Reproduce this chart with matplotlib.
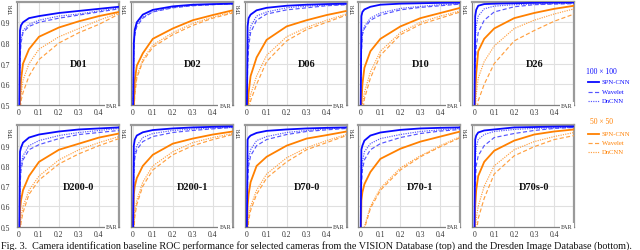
import matplotlib
matplotlib.use("Agg")
import matplotlib.pyplot as plt
from matplotlib.lines import Line2D

# ---------------- data ----------------
far = [0.0, 0.005, 0.01, 0.02, 0.05, 0.1, 0.2, 0.3, 0.4, 0.5]

cameras_top = ["D01", "D02", "D06", "D10", "D26"]
cameras_bottom = ["D200-0", "D200-1", "D70-0", "D70-1", "D70s-0"]
methods = ["SPN-CNN", "Wavelet", "DnCNN"]
resolutions = ["100 \u00d7 100", "50 \u00d7 50"]

# rows: 100x100 SPN-CNN, Wavelet, DnCNN, then 50x50 SPN-CNN, Wavelet, DnCNN
D01_tpr = [
    [0.3, 0.86, 0.885, 0.90, 0.92, 0.93, 0.945, 0.955, 0.965, 0.975],
    [0.3, 0.72, 0.80, 0.85, 0.88, 0.90, 0.92, 0.935, 0.95, 0.965],
    [0.3, 0.75, 0.82, 0.86, 0.89, 0.91, 0.93, 0.94, 0.955, 0.97],
    [0.3, 0.52, 0.62, 0.70, 0.77, 0.83, 0.875, 0.905, 0.93, 0.95],
    [0.3, 0.45, 0.52, 0.56, 0.64, 0.72, 0.80, 0.85, 0.89, 0.94],
    [0.3, 0.48, 0.55, 0.62, 0.70, 0.77, 0.83, 0.87, 0.91, 0.945],
]
D02_tpr = [
    [0.3, 0.80, 0.865, 0.90, 0.937, 0.96, 0.977, 0.985, 0.988, 0.99],
    [0.3, 0.76, 0.84, 0.88, 0.92, 0.95, 0.97, 0.98, 0.985, 0.99],
    [0.3, 0.77, 0.85, 0.89, 0.925, 0.952, 0.972, 0.982, 0.986, 0.99],
    [0.3, 0.50, 0.62, 0.69, 0.75, 0.82, 0.87, 0.91, 0.935, 0.958],
    [0.3, 0.45, 0.55, 0.63, 0.71, 0.78, 0.84, 0.885, 0.92, 0.945],
    [0.3, 0.46, 0.56, 0.64, 0.72, 0.79, 0.85, 0.895, 0.925, 0.95],
]
D06_tpr = [
    [0.3, 0.88, 0.92, 0.937, 0.958, 0.97, 0.98, 0.985, 0.988, 0.99],
    [0.3, 0.68, 0.78, 0.85, 0.91, 0.94, 0.96, 0.97, 0.98, 0.985],
    [0.3, 0.72, 0.82, 0.88, 0.93, 0.95, 0.97, 0.978, 0.983, 0.987],
    [0.3, 0.48, 0.56, 0.64, 0.73, 0.815, 0.88, 0.91, 0.935, 0.955],
    [0.3, 0.30, 0.45, 0.52, 0.60, 0.71, 0.81, 0.865, 0.90, 0.935],
    [0.3, 0.35, 0.50, 0.55, 0.64, 0.74, 0.83, 0.875, 0.91, 0.94],
]
D10_tpr = [
    [0.3, 0.93, 0.95, 0.962, 0.975, 0.985, 0.99, 0.992, 0.994, 0.995],
    [0.3, 0.75, 0.84, 0.87, 0.91, 0.935, 0.96, 0.972, 0.98, 0.988],
    [0.3, 0.77, 0.85, 0.88, 0.92, 0.945, 0.967, 0.977, 0.985, 0.99],
    [0.3, 0.50, 0.60, 0.68, 0.76, 0.82, 0.88, 0.92, 0.945, 0.97],
    [0.3, 0.35, 0.45, 0.53, 0.63, 0.74, 0.84, 0.89, 0.92, 0.95],
    [0.3, 0.40, 0.50, 0.56, 0.66, 0.76, 0.85, 0.90, 0.93, 0.955],
]
D26_tpr = [
    [0.3, 0.93, 0.96, 0.98, 0.988, 0.99, 0.992, 0.994, 0.995, 0.996],
    [0.3, 0.68, 0.78, 0.85, 0.91, 0.95, 0.975, 0.985, 0.988, 0.99],
    [0.3, 0.80, 0.88, 0.93, 0.965, 0.978, 0.985, 0.988, 0.99, 0.992],
    [0.3, 0.55, 0.65, 0.76, 0.82, 0.87, 0.92, 0.945, 0.965, 0.98],
    [0.3, 0.35, 0.45, 0.52, 0.60, 0.70, 0.81, 0.86, 0.905, 0.94],
    [0.3, 0.45, 0.55, 0.63, 0.71, 0.785, 0.87, 0.91, 0.94, 0.965],
]
D200_0_tpr = [
    [0.3, 0.87, 0.89, 0.915, 0.94, 0.955, 0.97, 0.98, 0.985, 0.99],
    [0.3, 0.70, 0.78, 0.83, 0.88, 0.905, 0.935, 0.955, 0.965, 0.975],
    [0.3, 0.72, 0.80, 0.85, 0.90, 0.925, 0.95, 0.965, 0.975, 0.985],
    [0.3, 0.58, 0.63, 0.68, 0.75, 0.82, 0.88, 0.91, 0.94, 0.96],
    [0.3, 0.45, 0.52, 0.57, 0.66, 0.73, 0.81, 0.86, 0.90, 0.935],
    [0.3, 0.48, 0.55, 0.60, 0.68, 0.75, 0.83, 0.88, 0.915, 0.945],
]
D200_1_tpr = [
    [0.3, 0.90, 0.93, 0.95, 0.966, 0.977, 0.985, 0.99, 0.993, 0.995],
    [0.3, 0.76, 0.84, 0.88, 0.92, 0.945, 0.965, 0.975, 0.983, 0.99],
    [0.3, 0.78, 0.86, 0.90, 0.94, 0.96, 0.975, 0.982, 0.987, 0.99],
    [0.3, 0.66, 0.70, 0.74, 0.80, 0.855, 0.91, 0.935, 0.955, 0.97],
    [0.3, 0.48, 0.55, 0.61, 0.70, 0.78, 0.855, 0.90, 0.93, 0.955],
    [0.3, 0.50, 0.57, 0.63, 0.72, 0.80, 0.87, 0.915, 0.94, 0.96],
]
D70_0_tpr = [
    [0.3, 0.93, 0.94, 0.95, 0.963, 0.973, 0.98, 0.985, 0.988, 0.99],
    [0.3, 0.72, 0.80, 0.85, 0.90, 0.93, 0.955, 0.97, 0.978, 0.985],
    [0.3, 0.76, 0.84, 0.88, 0.925, 0.945, 0.965, 0.975, 0.983, 0.99],
    [0.3, 0.60, 0.66, 0.72, 0.80, 0.845, 0.90, 0.935, 0.952, 0.97],
    [0.3, 0.45, 0.53, 0.58, 0.66, 0.74, 0.82, 0.88, 0.915, 0.95],
    [0.3, 0.48, 0.55, 0.60, 0.68, 0.76, 0.84, 0.89, 0.925, 0.955],
]
D70_1_tpr = [
    [0.3, 0.88, 0.90, 0.925, 0.95, 0.965, 0.978, 0.985, 0.988, 0.99],
    [0.3, 0.70, 0.78, 0.83, 0.88, 0.91, 0.94, 0.96, 0.972, 0.98],
    [0.3, 0.74, 0.82, 0.87, 0.91, 0.935, 0.955, 0.97, 0.978, 0.985],
    [0.3, 0.63, 0.67, 0.71, 0.77, 0.835, 0.885, 0.92, 0.945, 0.97],
    [0.3, 0.30, 0.40, 0.49, 0.59, 0.68, 0.78, 0.845, 0.895, 0.94],
    [0.3, 0.30, 0.42, 0.50, 0.60, 0.69, 0.79, 0.85, 0.90, 0.945],
]
D70s_0_tpr = [
    [0.3, 0.93, 0.95, 0.965, 0.975, 0.98, 0.99, 0.992, 0.994, 0.995],
    [0.3, 0.70, 0.80, 0.85, 0.90, 0.94, 0.96, 0.975, 0.985, 0.99],
    [0.3, 0.82, 0.89, 0.93, 0.955, 0.97, 0.98, 0.985, 0.988, 0.99],
    [0.3, 0.60, 0.68, 0.75, 0.82, 0.875, 0.925, 0.955, 0.97, 0.98],
    [0.3, 0.38, 0.46, 0.54, 0.64, 0.76, 0.85, 0.895, 0.93, 0.95],
    [0.3, 0.45, 0.54, 0.60, 0.70, 0.80, 0.88, 0.92, 0.945, 0.965],
]

x_ticks = [0, 0.1, 0.2, 0.3, 0.4]
x_ticklabels = ["0", "0.1", "0.2", "0.3", "0.4"]
y_ticks = [0.5, 0.6, 0.7, 0.8, 0.9]
y_ticklabels = ["0.5", "0.6", "0.7", "0.8", "0.9"]

caption = ("Fig. 3.  Camera identification baseline ROC performance for selected cameras "
           "from the VISION Database (top) and the Dresden Image Database (bottom).")

tpr_by_camera = {
    "D01": D01_tpr, "D02": D02_tpr, "D06": D06_tpr, "D10": D10_tpr, "D26": D26_tpr,
    "D200-0": D200_0_tpr, "D200-1": D200_1_tpr, "D70-0": D70_0_tpr,
    "D70-1": D70_1_tpr, "D70s-0": D70s_0_tpr,
}

# ---------------- style ----------------
plt.rcParams['font.family'] = ['Liberation Serif', 'DejaVu Serif']
W, H = 640, 251
fig = plt.figure(figsize=(W / 100, H / 100), dpi=100)

BLUE = "#0a0aff"
BLUE_L = "#5555ff"
ORANGE = "#ff8000"
ORANGE_L = "#ffa040"

styles = [
    dict(color=BLUE, lw=1.3, ls="-"),
    dict(color=BLUE_L, lw=0.85, ls=(0, (3.5, 2))),
    dict(color=BLUE_L, lw=0.85, ls=(0, (1, 1))),
    dict(color=ORANGE, lw=1.3, ls="-"),
    dict(color=ORANGE_L, lw=0.85, ls=(0, (3.5, 2))),
    dict(color=ORANGE_L, lw=0.85, ls=(0, (1, 1))),
]
draw_order = [4, 5, 1, 2, 3, 0]

def px2fig(x, y):
    return x / W, 1 - y / H

rows = [(cameras_top, 2.6, 106.0), (cameras_bottom, 126.4, 227.7)]
for r, (cams, ytop, ybot) in enumerate(rows):
    for c, cam in enumerate(cams):
        left = 17 + 113.8 * c
        ax = fig.add_axes([left / W, 1 - ybot / H, 102 / W, (ybot - ytop) / H])
        ax.set_xlim(-0.01, 0.5)
        ax.set_ylim(0.5, 1.0)
        data = tpr_by_camera[cam]
        for i in draw_order:
            ax.plot(far, data[i], solid_capstyle="butt", **styles[i], zorder=3)
        ax.set_xticks(x_ticks)
        ax.set_xticklabels(x_ticklabels)
        ax.set_yticks(y_ticks)
        if c == 0:
            ax.set_yticklabels(y_ticklabels)
        else:
            ax.set_yticklabels([])
        ax.tick_params(axis="both", length=0, labelsize=5.5, colors="#333333")
        ax.tick_params(axis="x", pad=2.2)
        ax.tick_params(axis="y", pad=5.0)
        ax.grid(True, color="#e0e0e0", lw=0.8, zorder=0)
        ax.set_axisbelow(True)
        for s in ("top", "right"):
            ax.spines[s].set_color("#9a9a9a")
            ax.spines[s].set_linewidth(1.6)
        for s in ("left", "bottom"):
            ax.spines[s].set_color("#808080")
            ax.spines[s].set_linewidth(0.9)
        ax.text(0.3, 0.7, cam, ha="center", va="center", fontsize=7.5,
                fontweight="bold", color="#111111", zorder=5)
        ax.text(-0.052, 0.995, "TPR", transform=ax.transAxes, rotation=90,
                ha="center", va="top", fontsize=4.2, color="#333333")
        ax.text(0.4625, 0.5, "FAR", ha="center", va="center", fontsize=4.5,
                color="#333333", zorder=6, clip_on=False,
                bbox=dict(boxstyle="square,pad=0.15", fc="white", ec="none"))

# ---------------- legend ----------------
legend_blocks = [(resolutions[0], BLUE, 71.7, [83.0, 92.5, 101.5], [0, 1, 2]),
                 (resolutions[1], ORANGE, 122.0, [134.5, 143.5, 152.5], [3, 4, 5])]
for title, col, ty, ys, idx in legend_blocks:
    x, y = px2fig(601, ty)
    fig.text(x, y, title, color=col, fontsize=5.5, ha="center", va="center")
    for m, yy, i in zip(methods, ys, idx):
        x0, y0 = px2fig(588, yy)
        x1, _ = px2fig(599, yy)
        st = styles[i]
        fig.add_artist(Line2D([x0, x1], [y0, y0], color=st["color"], lw=st["lw"],
                              ls=st["ls"], transform=fig.transFigure))
        xt, _ = px2fig(601.5, yy)
        fig.text(xt, y0, m, color=col, fontsize=4.8, ha="left", va="center")

# ---------------- caption ----------------
cx, cy = px2fig(1, 246.5)
fig.text(cx, cy, caption, fontsize=7.3, ha="left", va="center", color="#111111")

fig.savefig("out.png", dpi=100)
